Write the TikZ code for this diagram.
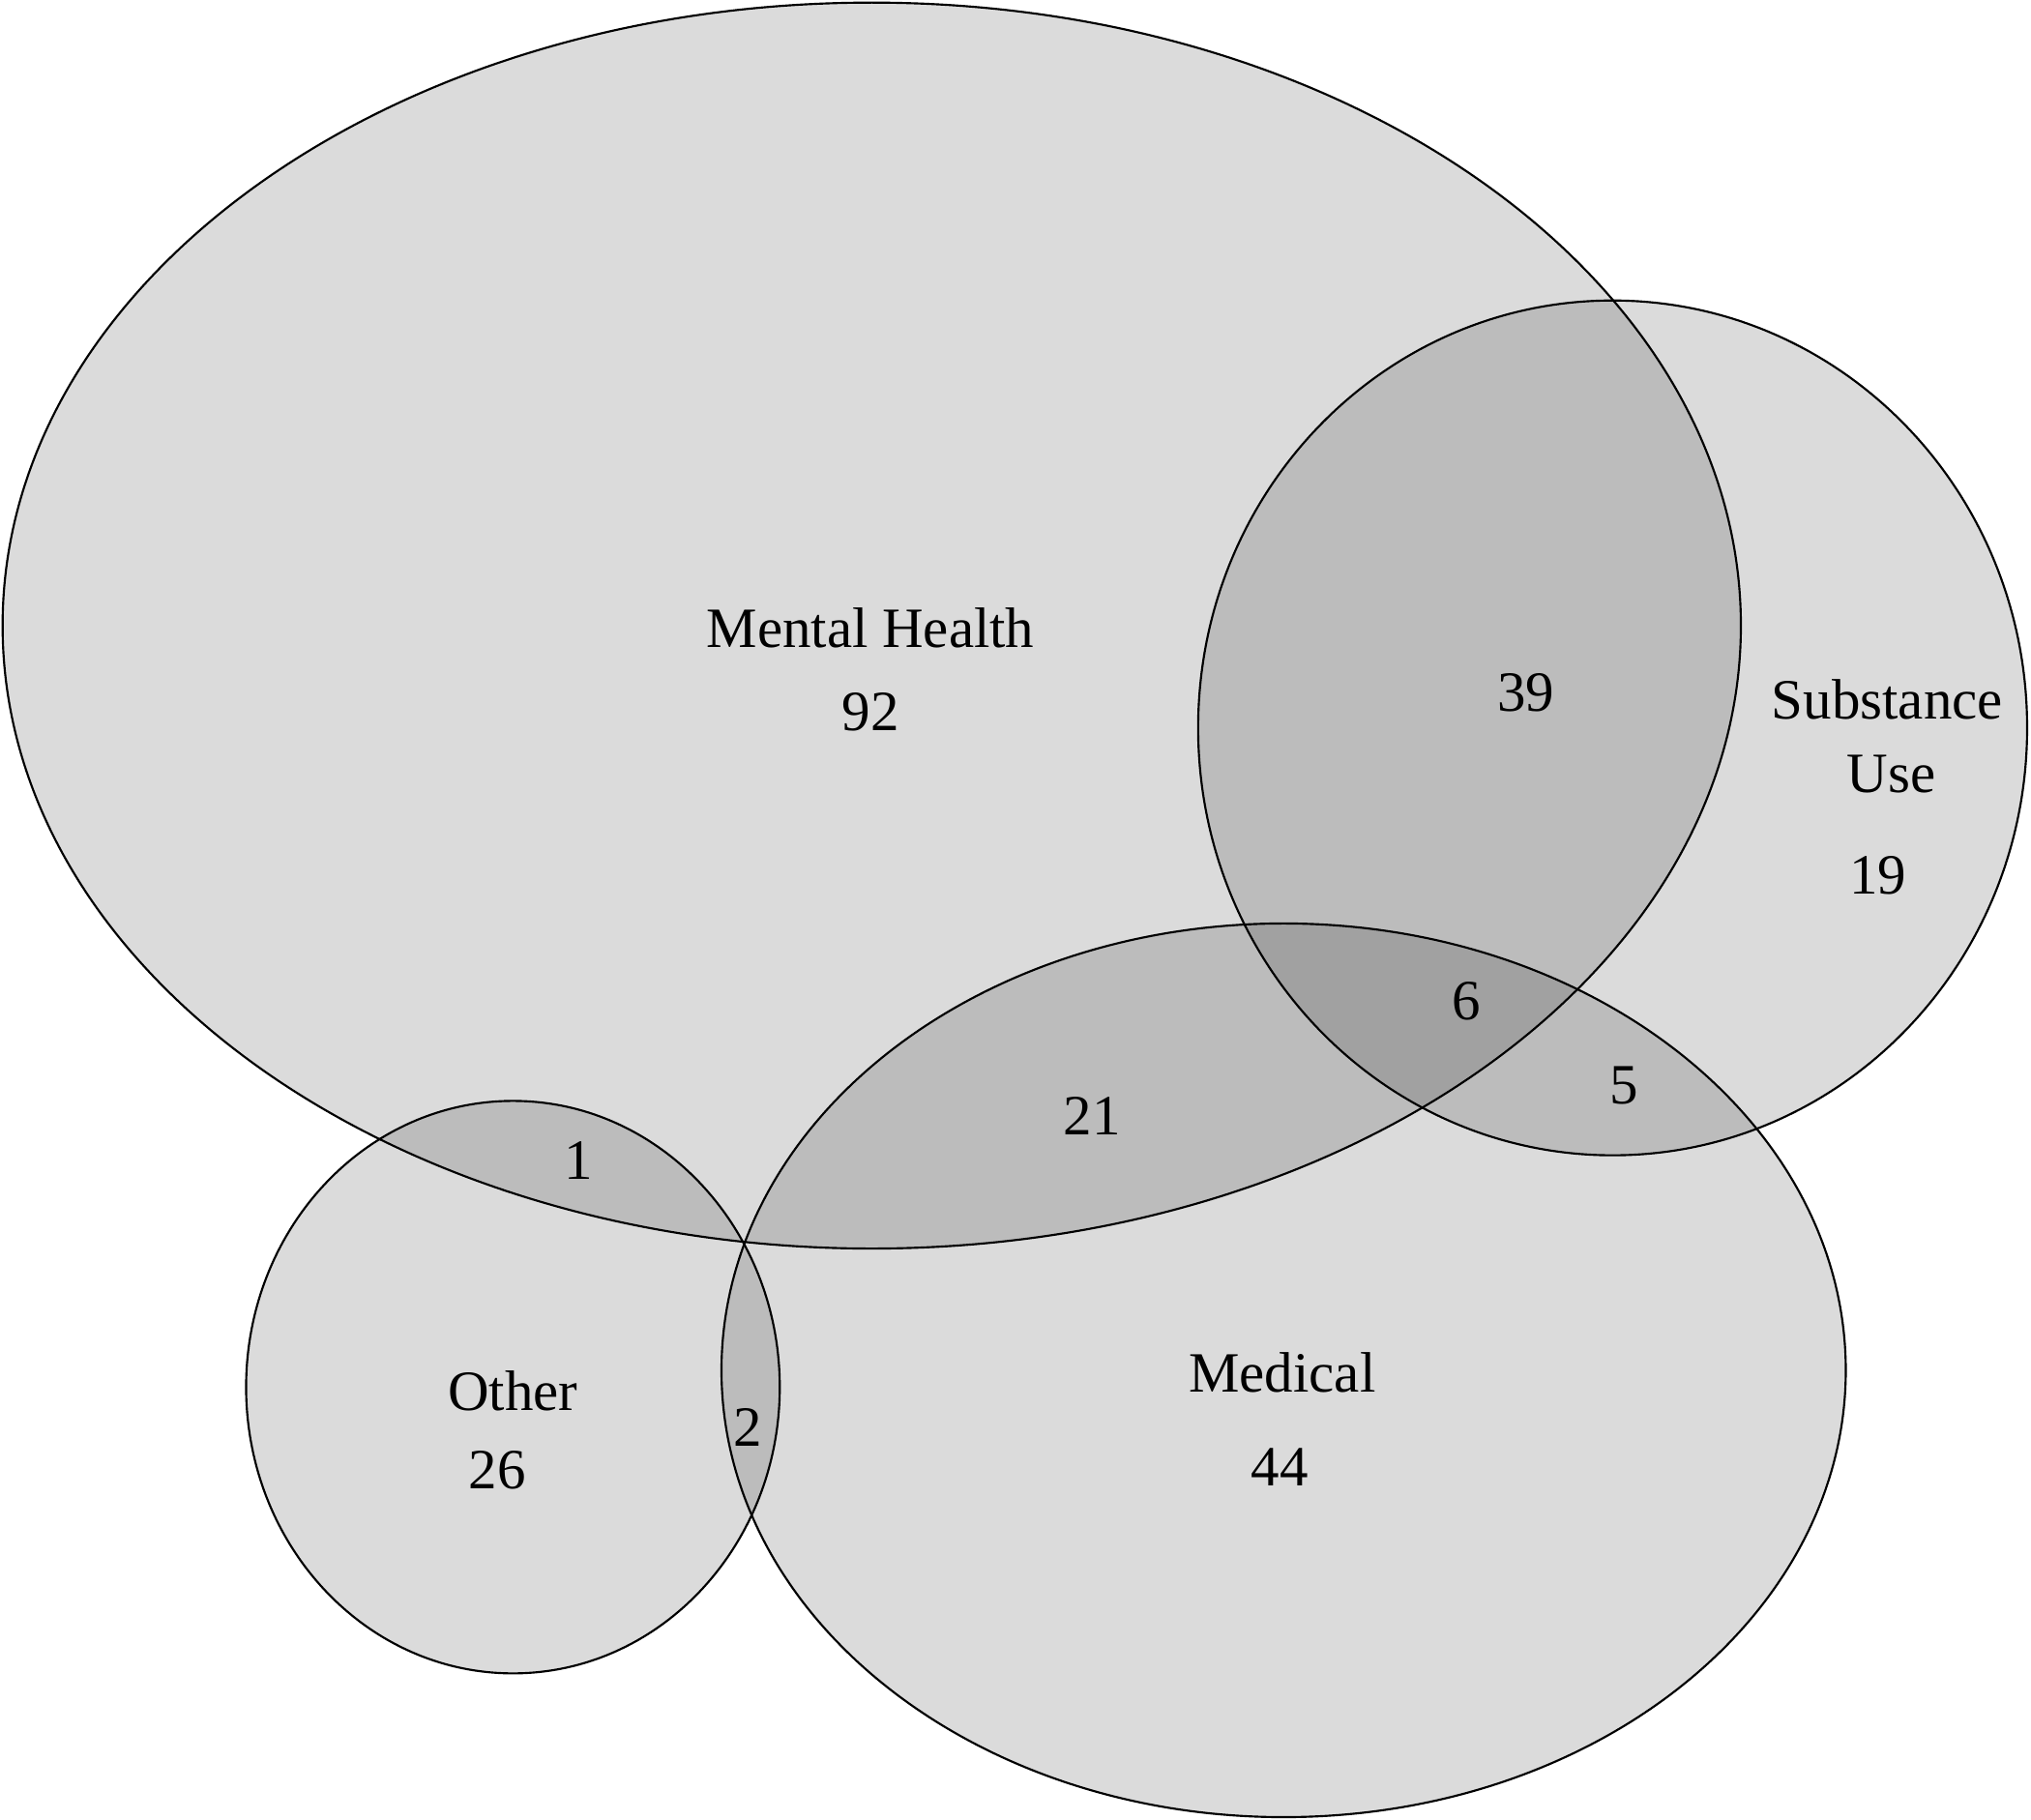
\documentclass[tikz,border=0pt]{standalone}
\usepackage{fontspec}
\setmainfont{Liberation Serif}
\begin{document}
\begin{tikzpicture}[x=1pt,y=-1pt,
  setshape/.style={draw=black,line width=1.6pt,fill=black,fill opacity=0.14},
  lbl/.style={font=\fontsize{44}{52}\selectfont,inner sep=0pt}]
\useasboundingbox (0,0) rectangle (1568,1405);
\draw[setshape] (673,483) ellipse [x radius=671,y radius=481];
\draw[setshape] (1245,562) ellipse [x radius=320,y radius=330];
\draw[setshape] (991,1058) ellipse [x radius=434,y radius=345];
\draw[setshape] (396,1071) ellipse [x radius=206,y radius=221];
\node[lbl] (mh) at (672,485) {Mental Health};
\node[lbl] (n92) at (672,550) {92};
\node[lbl] (n39) at (1178,535) {39};
\node[lbl] (su1) at (1457,540) {Substance};
\node[lbl] (su2) at (1460,598) {Use};
\node[lbl] (n19) at (1450,676) {19};
\node[lbl] (n6) at (1132,773) {6};
\node[lbl] (n5) at (1254,838) {5};
\node[lbl] (n21) at (843,862) {21};
\node[lbl] (n1) at (447,896) {1};
\node[lbl] (oth) at (396,1074) {Other};
\node[lbl] (n26) at (384,1135) {26};
\node[lbl] (n2) at (577,1102) {2};
\node[lbl] (med) at (990,1060) {Medical};
\node[lbl] (n44) at (988,1133) {44};
\end{tikzpicture}
\end{document}
